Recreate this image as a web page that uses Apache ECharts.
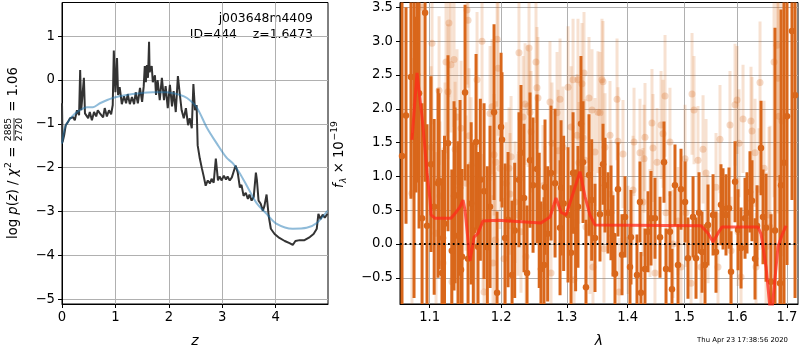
<!DOCTYPE html>
<html>
<head>
<meta charset="utf-8">
<script src="https://cdn.jsdelivr.net/npm/echarts@6/dist/echarts.min.js"></script>
<style>
  html, body { margin: 0; padding: 0; background: #fff; }
  #chart { width: 800px; height: 350px; }
</style>
</head>
<body>
<div id="chart"></div>
<script>
// left panel: log p(z)
const pzZ = [0.00,0.01,0.04,0.07,0.11,0.15,0.21,0.24,0.28,0.32,
  0.34,0.36,0.39,0.41,0.43,0.49,0.52,0.56,0.60,0.64,
  0.67,0.71,0.77,0.80,0.84,0.88,0.92,0.95,0.97,1.00,
  1.03,1.05,1.08,1.12,1.16,1.20,1.23,1.27,1.31,1.35,
  1.38,1.42,1.46,1.50,1.53,1.55,1.57,1.59,1.61,1.63,
  1.64,1.68,1.70,1.74,1.76,1.79,1.83,1.87,1.91,1.94,
  1.98,2.02,2.06,2.09,2.13,2.17,2.21,2.24,2.28,2.32,
  2.36,2.39,2.43,2.46,2.49,2.52,2.54,2.58,2.62,2.65,
  2.69,2.73,2.77,2.80,2.84,2.88,2.92,2.95,2.99,3.03,
  3.07,3.10,3.14,3.18,3.21,3.25,3.29,3.33,3.36,3.40,
  3.44,3.48,3.51,3.55,3.59,3.63,3.65,3.68,3.72,3.76,
  3.79,3.83,3.87,3.91,3.98,4.07,4.17,4.26,4.32,4.37,
  4.45,4.54,4.64,4.71,4.77,4.80,4.84,4.88,4.92,4.97]
const pzLog = [-0.53,-1.42,-1.26,-1.03,-0.96,-0.87,-0.85,-0.92,-0.69,-0.80,
  0.23,-0.69,-0.73,0.05,-0.76,-0.87,-0.73,-0.92,-0.73,-0.83,
  -0.69,-0.76,-0.85,-0.64,-0.83,-0.69,-0.78,-0.57,0.67,-0.28,
  0.50,-0.34,-0.16,-0.55,-0.37,-0.53,-0.32,-0.55,-0.39,-0.55,
  -0.28,-0.53,-0.18,-0.50,-0.14,0.32,-0.05,0.34,0.05,0.87,
  0.18,0.32,-0.05,0.11,-0.34,0.00,-0.46,0.05,-0.46,-0.14,
  -0.64,-0.11,-0.60,-0.25,-0.73,0.09,-0.37,-0.69,-0.87,-0.64,
  -1.03,-0.87,-1.10,-0.09,-0.69,-0.57,-1.49,-1.79,-2.02,-2.18,
  -2.41,-2.29,-2.36,-2.25,-2.34,-1.79,-2.29,-2.20,-2.29,-2.18,
  -2.27,-2.20,-2.29,-2.22,-2.25,-1.95,-2.11,-2.45,-2.39,-2.64,
  -2.57,-2.71,-2.61,-2.75,-2.66,-2.11,-2.29,-2.75,-2.82,-2.98,
  -2.87,-2.61,-3.10,-3.39,-3.51,-3.60,-3.67,-3.72,-3.76,-3.67,
  -3.65,-3.65,-3.58,-3.51,-3.39,-3.05,-3.17,-3.07,-3.14,-3.05]
// smooth prior curve
const smZ = [0,0.05,0.09,0.19,0.28,0.47,0.58,0.71,0.95,1.21,1.46,1.70,1.96,2.21,2.34,
  2.52,2.71,2.90,3.08,3.20,3.33,3.46,3.64,3.83,4.02,4.32,4.58,4.77,4.97]
const smLog = [-1.45,-1.10,-0.99,-0.83,-0.73,-0.62,-0.62,-0.53,-0.41,-0.34,-0.30,-0.28,-0.28,-0.34,-0.41,
  -0.62,-1.08,-1.45,-1.77,-1.90,-2.13,-2.41,-2.80,-3.05,-3.28,-3.39,-3.37,-3.26,-2.98]
const zTicks = [0, 1, 2, 3, 4]
const logpTicks = [-5, -4, -3, -2, -1, 0, 1]

// right panel: spectrum (flux in 1e-19)
const darkLam = [1.0635,1.0687,1.0752,1.0792,1.0818,1.0831,1.0858,1.0898,1.0938,1.0964,
  1.1018,1.1112,1.1126,1.1166,1.1180,1.1248,1.1331,1.1345,1.1386,1.1414,
  1.1428,1.1442,1.1484,1.1526,1.1639,1.1667,1.1753,1.1839,1.1897,1.1941,
  1.1999,1.2013,1.2058,1.2102,1.2161,1.2264,1.2294,1.2339,1.2385,1.2430,
  1.2476,1.2536,1.2597,1.2644,1.2659,1.2752,1.2815,1.2893,1.2909,1.3019,
  1.3067,1.3099,1.3178,1.3226,1.3259,1.3307,1.3356,1.3454,1.3536,1.3586,
  1.3619,1.3669,1.3719,1.3752,1.3786,1.3836,1.3904,1.3955,1.4040,1.4057,
  1.4160,1.4212,1.4229,1.4299,1.4351,1.4404,1.4474,1.4563,1.4634,1.4670,
  1.4741,1.4777,1.4831,1.4886,1.4940,1.5014,1.5068,1.5161,1.5216,1.5272,
  1.5328,1.5384,1.5440,1.5535,1.5591,1.5686,1.5725,1.5782,1.5840,1.5879,
  1.5957,1.6015,1.6074,1.6152,1.6191,1.6250,1.6290,1.6350,1.6390,1.6470,
  1.6510,1.6571,1.6671,1.6753,1.6855,1.6876,1.6938,1.7000,1.7103,1.7167,
  1.1060,1.1200,1.1300,1.1570,1.1600,1.1700,1.1800,1.2200,1.2570,1.2700,
  1.2950,1.3140,1.3400]
const darkFlux = [1.30,1.90,2.47,1.60,2.06,2.51,2.23,0.38,3.42,0.27,
  1.18,0.90,0.93,-0.43,0.09,1.49,0.71,0.72,0.12,0.83,
  -0.38,-0.19,2.24,-0.22,1.51,-0.04,0.78,0.55,1.95,-0.72,
  1.73,1.54,0.09,0.36,-0.46,0.95,1.35,0.68,-0.43,1.24,
  0.87,1.11,-0.37,-0.31,0.84,1.05,0.90,0.24,0.83,0.43,
  -0.13,1.05,0.55,1.78,1.21,-0.64,1.02,0.09,0.44,1.18,
  0.87,0.46,0.46,0.12,-0.44,0.81,-0.16,0.40,-0.34,0.10,
  -0.46,0.62,-0.72,-0.37,0.18,0.38,0.38,0.10,1.21,-0.37,
  0.18,-0.67,0.87,-0.31,0.81,0.62,-0.21,0.40,-0.21,0.46,
  -0.12,-0.31,0.28,0.43,-0.12,0.58,0.52,0.43,0.53,-0.41,
  0.92,0.21,-0.06,0.38,0.46,0.77,0.64,-0.22,0.27,1.42,
  0.40,0.24,-0.56,0.20,-0.58,0.87,1.20,1.89,3.15,2.20,
  0.55,0.30,-0.10,0.60,0.20,0.95,-0.05,0.20,0.35,0.15,
  0.60,0.20,0.65]
const darkErr = [3.2,1.6,1.8,2.4,1.3,1.6,2.0,1.7,2.5,1.5,
  1.3,1.4,1.3,1.4,1.3,1.3,1.4,1.3,1.4,1.3,
  1.4,1.3,1.3,1.4,1.3,1.4,1.3,1.2,1.3,1.2,
  1.1,1.0,1.1,1.0,1.1,1.0,1.0,1.1,1.0,1.0,
  1.0,1.1,1.0,1.0,1.0,1.0,1.1,1.0,1.0,1.0,
  1.0,0.9,0.9,1.0,0.9,1.0,0.9,0.8,0.7,0.6,
  0.7,0.6,0.7,0.6,0.6,0.7,0.6,0.6,0.6,0.7,
  0.6,0.6,0.6,0.6,0.6,0.7,0.6,0.6,0.6,0.6,
  0.6,0.6,0.6,0.6,0.6,0.6,0.6,0.6,0.6,0.6,
  0.6,0.6,0.6,0.6,0.6,0.6,0.6,0.6,0.6,0.6,
  0.6,0.6,0.6,0.6,0.6,0.6,0.6,0.6,0.6,0.7,
  0.7,0.8,1.0,3.0,1.6,2.6,3.0,2.2,2.5,3.0,
  1.3,1.3,1.2,1.2,1.3,1.2,1.2,1.0,1.0,1.0,
  1.0,0.9,0.9]

const fadedLam = [1.0765,1.0898,1.1018,1.1031,1.1085,1.1126,1.1139,1.1180,1.1207,1.1221,
  1.1248,1.1261,1.1289,1.1303,1.1331,1.1345,1.1372,1.1428,1.1498,1.1512,
  1.1526,1.1540,1.1568,1.1625,1.1653,1.1724,1.1738,1.1753,1.1839,1.1868,
  1.1882,1.1897,1.1912,1.1926,1.1941,1.1955,1.1984,1.2043,1.2072,1.2116,
  1.2131,1.2146,1.2205,1.2249,1.2264,1.2294,1.2324,1.2355,1.2370,1.2400,
  1.2415,1.2430,1.2445,1.2521,1.2536,1.2551,1.2628,1.2659,1.2736,1.2752,
  1.2767,1.2846,1.2862,1.2893,1.2940,1.3019,1.3067,1.3099,1.3115,1.3162,
  1.3178,1.3194,1.3242,1.3259,1.3275,1.3291,1.3307,1.3356,1.3372,1.3405,
  1.3421,1.3454,1.3503,1.3536,1.3569,1.3586,1.3602,1.3619,1.3702,1.3719,
  1.3820,1.3836,1.3853,1.3921,1.4006,1.4092,1.4109,1.4212,1.4264,1.4282,
  1.4299,1.4386,1.4421,1.4439,1.4474,1.4510,1.4581,1.4616,1.4652,1.4670,
  1.4741,1.4795,1.4886,1.4940,1.5014,1.5032,1.5124,1.5142,1.5179,1.5253,
  1.5309,1.5347,1.5403,1.5440,1.5591,1.5629,1.5667,1.5859,1.5879,1.5957,
  1.5996,1.6015,1.6035,1.6074,1.6113,1.6270,1.6290,1.6350,1.6370,1.6430,
  1.6450,1.6530,1.6571,1.6631,1.6651,1.6733,1.6794,1.6814,1.6835,1.6896]
const fadedFlux = [0.75,3.50,1.43,2.97,0.16,2.27,0.71,-0.28,1.39,2.69,
  2.25,3.27,2.65,-0.56,2.73,1.40,1.88,1.71,0.90,3.46,
  3.31,1.60,1.17,0.01,2.43,3.00,0.33,-0.71,1.93,2.03,
  -0.28,1.32,0.06,1.21,3.03,2.60,1.12,-0.22,0.90,1.12,
  0.74,1.29,0.62,0.43,2.83,0.18,1.88,2.07,-0.19,2.04,
  2.90,1.95,1.66,2.69,2.31,2.16,0.86,0.55,2.10,-0.43,
  1.49,1.94,1.38,2.14,1.43,2.32,1.73,2.43,-0.53,1.61,
  2.43,1.20,2.37,1.57,2.53,1.24,0.25,2.16,0.16,1.98,
  -0.34,1.36,1.95,1.94,2.43,2.40,-0.07,1.43,1.61,0.74,
  2.14,1.52,-0.71,1.33,0.06,0.80,1.51,1.35,0.62,1.26,
  1.58,0.31,1.79,1.42,-0.43,1.21,1.76,1.63,2.19,0.46,
  1.51,0.00,0.34,-0.34,1.26,0.46,-0.58,2.22,1.98,1.24,
  -0.34,1.40,1.05,0.22,0.84,-0.34,1.55,1.76,-0.10,2.06,
  2.13,0.18,1.49,-0.49,1.85,1.82,1.67,1.35,-0.34,0.81,
  2.39,1.12,-0.04,0.43,0.25,2.69,2.94,2.45,1.89,1.82]
const fadedErr = [2.0,2.0,1.2,1.2,1.2,1.1,1.1,1.1,1.0,1.1,
  1.0,1.1,1.0,1.0,1.0,1.0,1.0,1.0,1.0,1.1,
  1.0,1.0,1.0,1.0,1.0,1.0,1.0,1.0,1.0,1.0,
  1.0,0.9,1.0,0.9,1.0,1.0,0.9,0.9,0.9,0.9,
  0.9,0.9,0.9,0.9,1.0,0.9,0.9,0.9,0.9,0.9,
  1.0,0.9,0.9,0.9,0.9,0.9,0.9,0.9,0.9,0.9,
  0.9,0.9,0.9,0.9,0.9,0.9,0.9,0.9,0.9,0.9,
  0.9,0.9,0.9,0.9,0.9,0.9,0.9,0.9,0.9,0.9,
  0.8,0.8,0.9,0.9,0.9,0.9,0.8,0.8,0.8,0.8,
  0.9,0.8,0.8,0.8,0.8,0.8,0.8,0.8,0.8,0.8,
  0.8,0.8,0.8,0.8,0.8,0.8,0.8,0.8,0.9,0.8,
  0.8,0.8,0.8,0.8,0.8,0.8,0.8,0.9,0.8,0.8,
  0.8,0.8,0.8,0.8,0.8,0.8,0.8,0.8,0.8,0.9,
  0.8,0.8,0.8,0.8,0.8,0.8,0.8,0.8,0.8,0.9,
  0.9,1.0,1.1,1.3,1.5,2.0,2.0,2.0,2.0,2.0]

// model
const modelLam = [1.0765,1.0831,1.0898,1.0938,1.0964,1.1004,1.1018,1.1072,1.1289,1.1359,
  1.1414,1.1456,1.1484,1.1554,1.1611,1.1667,1.1738,1.1955,1.2597,1.2736,
  1.2830,1.2909,1.2988,1.3099,1.3210,1.3291,1.3372,1.3454,1.5309,1.5440,
  1.5535,1.5629,1.5705,1.6410,1.6470,1.6571,1.6671,1.6712,1.6814,1.6896,1.6979]
const modelFlux = [1.54,2.53,1.88,1.39,1.05,0.65,0.43,0.38,0.38,0.47,
  0.55,0.65,0.50,-0.25,0.10,0.16,0.34,0.35,0.31,0.40,
  0.68,0.47,0.43,0.75,1.07,0.70,0.43,0.28,0.27,0.16,
  0.03,0.16,0.25,0.25,0.15,-0.34,-1.10,-0.83,-0.04,0.13,0.27]
const lamTicks = [1.1, 1.2, 1.3, 1.4, 1.5, 1.6, 1.7]
const fluxTicks = [-0.5, 0, 0.5, 1, 1.5, 2, 2.5, 3, 3.5]

const FONT = 'DejaVu Sans'
const ORANGE = '#d9671b'

function zip (...cols) {
  return cols[0].map((v, i) => cols.map(c => c[i]))
}
function minus (s) {
  return String(s).replace('-', '\u2212')
}
function axisStyle (ticks, fmt) {
  return {
    axisLine: { onZero: false, lineStyle: { color: '#000', width: 1 } },
    axisTick: { customValues: ticks, length: 4, lineStyle: { color: '#000' } },
    axisLabel: { customValues: ticks, formatter: fmt, color: '#000', fontFamily: FONT, fontSize: 13.2, margin: 7 },
    splitLine: { show: true, lineStyle: { color: '#b0b0b0', width: 1 } }
  }
}
function errorBars (width, opacity) {
  return function (params, api) {
    const lam = api.value(0)
    const f = api.value(1)
    const e = api.value(2)
    const lo = api.coord([lam, f - e])
    const hi = api.coord([lam, f + e])
    return {
      type: 'line',
      shape: { x1: lo[0], y1: lo[1], x2: hi[0], y2: hi[1] },
      style: { stroke: ORANGE, lineWidth: width, opacity: opacity }
    }
  }
}
function txt (x, y, text, size, italic, align) {
  return {
    type: 'text', x: x, y: y,
    style: {
      text: text, fill: '#000',
      font: (italic ? 'italic ' : '') + size + 'px "' + FONT + '"',
      align: align || 'left', textAlign: align || 'left',
      verticalAlign: 'middle', textVerticalAlign: 'middle'
    }
  }
}

const chart = echarts.init(document.getElementById('chart'), null, { renderer: 'canvas' })

const option = {
  animation: false,
  grid: [
    { left: 62, top: 2.5, width: 266, height: 301.5, show: true, borderColor: '#000', borderWidth: 1, containLabel: false, outerBoundsMode: 'none' },
    { left: 400, top: 2.5, width: 398, height: 301.5, show: true, borderColor: '#000', borderWidth: 1, containLabel: false, outerBoundsMode: 'none' }
  ],
  xAxis: [
    Object.assign({ type: 'value', gridIndex: 0, min: 0, max: 4.98 }, axisStyle(zTicks, v => String(v))),
    Object.assign({ type: 'log', logBase: 10, gridIndex: 1, min: 1.0609, max: 1.7229 }, axisStyle(lamTicks, v => Number(v).toFixed(1)))
  ],
  yAxis: [
    Object.assign({ type: 'value', gridIndex: 0, min: -5.106, max: 1.767 }, axisStyle(logpTicks, v => minus(v))),
    Object.assign({ type: 'value', gridIndex: 1, min: -0.888, max: 3.572 }, axisStyle(fluxTicks, v => minus(Number(v).toFixed(1))))
  ],
  series: [
    {
      type: 'line', xAxisIndex: 0, yAxisIndex: 0, data: zip(pzZ, pzLog),
      showSymbol: false, lineStyle: { color: '#333', width: 2 }, z: 3
    },
    {
      type: 'line', xAxisIndex: 0, yAxisIndex: 0, data: zip(smZ, smLog), smooth: 0.3,
      showSymbol: false, lineStyle: { color: '#1f77b4', width: 2, opacity: 0.5 }, z: 4
    },
    {
      type: 'custom', xAxisIndex: 1, yAxisIndex: 1, clip: true,
      data: zip(fadedLam, fadedFlux, fadedErr), encode: { x: 0, y: 1 },
      renderItem: errorBars(3, 0.2), z: 1
    },
    {
      type: 'scatter', xAxisIndex: 1, yAxisIndex: 1, clip: true,
      data: zip(fadedLam, fadedFlux), symbolSize: 7,
      itemStyle: { color: ORANGE, opacity: 0.25 }, z: 2
    },
    {
      type: 'custom', xAxisIndex: 1, yAxisIndex: 1, clip: true,
      data: zip(darkLam, darkFlux, darkErr), encode: { x: 0, y: 1 },
      renderItem: errorBars(3, 1), z: 3
    },
    {
      type: 'scatter', xAxisIndex: 1, yAxisIndex: 1, clip: true,
      data: zip(darkLam, darkFlux), symbolSize: 6.5,
      itemStyle: { color: ORANGE, opacity: 1 }, z: 4
    },
    {
      type: 'line', xAxisIndex: 1, yAxisIndex: 1, data: zip(modelLam, modelFlux), clip: true,
      showSymbol: false, lineStyle: { color: '#ff2a1a', width: 3, opacity: 0.75 }, z: 5,
      markLine: {
        silent: true, symbol: ['none', 'none'], label: { show: false },
        lineStyle: { color: '#000', width: 1.8, type: [1.8, 3], opacity: 1 },
        data: [{ yAxis: 0 }]
      }
    }
  ],
  graphic: [
    txt(313, 19, 'j003648m4409', 12.4, false, 'right'),
    txt(313, 35, 'ID=444    z=1.6473', 12.4, false, 'right'),
    txt(195, 341, 'z', 14, true, 'center'),
    txt(599, 341, 'λ', 14, true, 'center'),
    txt(788, 340, 'Thu Apr 23 17:38:56 2020', 6.9, false, 'right'),
    {
      type: 'group', x: 14, y: 239, rotation: Math.PI / 2,
      children: [
        txt(0, 0, 'log ', 13.2, false),
        txt(24.3, 0, 'p', 13.2, true),
        txt(32.7, 0, '(', 13.2, false),
        txt(37.8, 0, 'z', 13.2, true),
        txt(44.7, 0, ')', 13.2, false),
        txt(49.8, 0, ' / ', 13.2, false),
        txt(62.6, 0, 'χ', 13.2, true),
        txt(71, -5, '2', 9.2, false),
        txt(77, 0, ' = ', 13.2, false),
        txt(109.5, -5.5, '2885', 9.2, false, 'center'),
        txt(109.5, 5.5, '2720', 9.2, false, 'center'),
        { type: 'line', shape: { x1: 98, y1: 0, x2: 121, y2: 0 }, style: { stroke: '#000', lineWidth: 0.8 } },
        txt(123, 0, ' = 1.06', 13.2, false)
      ]
    },
    {
      type: 'group', x: 340, y: 188, rotation: Math.PI / 2,
      children: [
        txt(0, 0, 'f', 13.2, true),
        txt(5, 3.5, 'λ', 9.2, true),
        txt(10.5, 0, ' × 10', 13.2, false),
        txt(47.5, -5, '−19', 9.2, false)
      ]
    }
  ]
}

chart.setOption(option)
</script>
</body>
</html>
